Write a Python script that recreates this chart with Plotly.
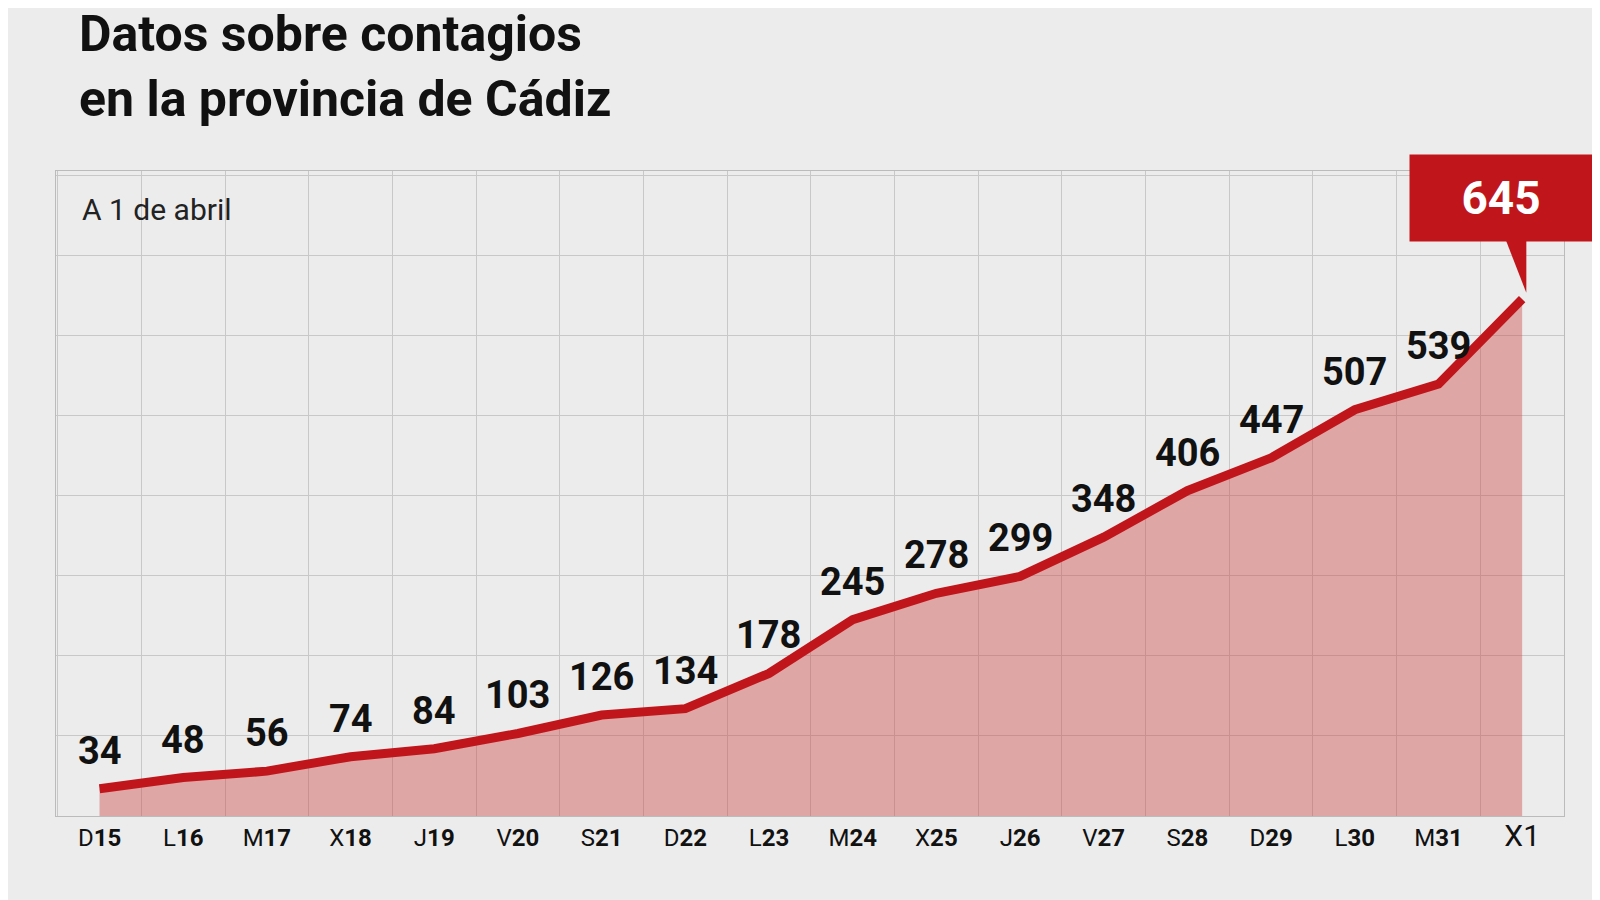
import plotly.graph_objects as go

dias = ["D", "L", "M", "X", "J", "V", "S", "D", "L", "M", "X", "J", "V", "S", "D", "L", "M", "X"]
numeros = ["15", "16", "17", "18", "19", "20", "21", "22", "23", "24", "25", "26", "27", "28", "29", "30", "31", "1"]
casos = [34, 48, 56, 74, 84, 103, 126, 134, 178, 245, 278, 299, 348, 406, 447, 507, 539, 645]

rojo = "#c0161b"
x = list(range(len(casos)))
etiquetas = [f"{d}<b>{n}</b>" for d, n in zip(dias, numeros)]
etiquetas[-1] = "<span style='font-size:30px'>X1</span>"

fig = go.Figure()
fig.add_trace(go.Scatter(
    x=x, y=casos, mode="lines", fill="tozeroy",
    fillcolor="rgba(205,70,70,0.42)",
    line=dict(color=rojo, width=9), hoverinfo="skip"
))

# numeros sobre cada punto (el ultimo va en el globo)
for xi, c in zip(x[:-1], casos[:-1]):
    fig.add_annotation(
        x=xi, y=c, yshift=38, showarrow=False, text=f"<b>{c}</b>",
        font=dict(family="Roboto", size=38, color="#111")
    )

fig.update_layout(
    width=1600, height=900, showlegend=False,
    paper_bgcolor="#ececec", plot_bgcolor="#ececec",
    margin=dict(l=48, r=44, t=163, b=92),
    font=dict(family="Roboto", color="#111"),
    xaxis=dict(
        range=[-0.52, 17.5], tickvals=x, ticktext=etiquetas,
        tickfont=dict(size=24, color="#111"), showgrid=False, zeroline=False,
        showline=True, linecolor="#bbb", mirror=True, ticks="",
        minor=dict(tick0=-0.5, dtick=1, showgrid=True, gridcolor="#c8c8c8", gridwidth=1),
    ),
    yaxis=dict(
        range=[0, 805], dtick=100, showticklabels=False, gridcolor="#c8c8c8",
        zeroline=False, showline=True, linecolor="#bbb", mirror=True,
    ),
)

fig.add_annotation(
    xref="paper", yref="paper", x=0.014, y=1.26, xanchor="left", yanchor="top",
    text="<b>Datos sobre contagios<br>en la provincia de Cádiz</b>", align="left",
    showarrow=False, font=dict(size=50, color="#111")
)
fig.add_annotation(
    xref="paper", yref="paper", x=0.016, y=0.97, xanchor="left", yanchor="top",
    text="A 1 de abril", showarrow=False, font=dict(size=30, color="#222")
)

# globo del ultimo dato
fig.add_shape(
    type="path", xref="x", yref="y", fillcolor=rojo, line=dict(width=0),
    path=f"M 16.8 {casos[-1]+75} L 17.05 {casos[-1]+8} L 17.05 {casos[-1]+75} Z"
)
fig.add_annotation(
    x=16.75, y=casos[-1] + 72, yanchor="bottom", xanchor="center",
    text=f"<b>{casos[-1]}</b>", showarrow=False, bgcolor=rojo,
    borderpad=16, width=150, font=dict(size=46, color="white")
)

fig.write_html("out.html")
